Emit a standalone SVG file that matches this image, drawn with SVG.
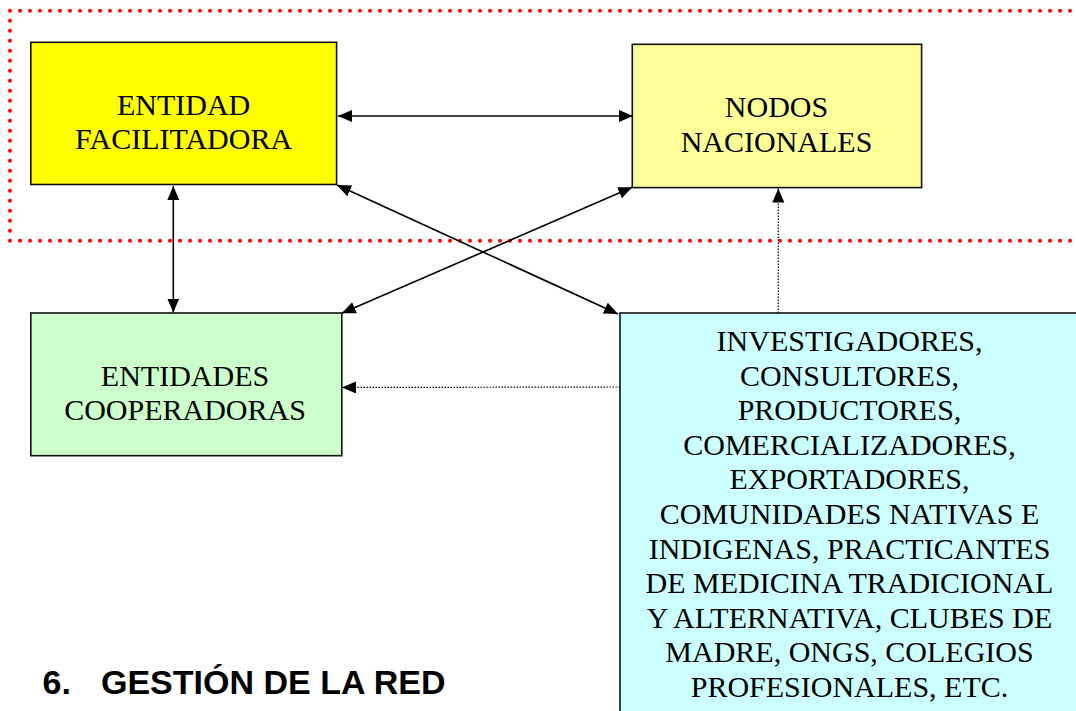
<svg xmlns="http://www.w3.org/2000/svg" width="1076" height="711" viewBox="0 0 1076 711">
<defs>
<style>
.box{stroke:#111;stroke-width:1.6}
.t{font-family:"Liberation Serif","Times New Roman",serif;font-size:30px;fill:#000;text-anchor:middle}
.ln{fill:none;stroke:#000;stroke-width:1.6}
.dl{fill:none;stroke:#000;stroke-width:1.2;stroke-dasharray:1.5 1.5}
.title{font-family:"Liberation Sans",Arial,sans-serif;font-weight:bold;font-size:34px;fill:#000}
</style>
<marker id="ah" markerUnits="userSpaceOnUse" markerWidth="15" markerHeight="13" refX="14" refY="6" orient="auto-start-reverse" viewBox="0 0 15 13">
<path d="M0,0 L14,6 L0,12 z" fill="#000"/>
</marker>
</defs>
<rect width="1076" height="711" fill="#fff"/>
<rect id="group-border" x="10" y="10.7" width="1100" height="230" fill="none" stroke="#ff0000" stroke-width="4" stroke-dasharray="0 10" stroke-linecap="round"/>
<g id="connectors">
<line class="ln" x1="338" y1="116" x2="633" y2="116" marker-start="url(#ah)" marker-end="url(#ah)"/>
<line class="ln" x1="173.3" y1="186" x2="173.3" y2="312.5" marker-start="url(#ah)" marker-end="url(#ah)"/>
<line class="ln" x1="337" y1="185" x2="618" y2="314" marker-start="url(#ah)" marker-end="url(#ah)"/>
<line class="ln" x1="632.3" y1="187.3" x2="341.7" y2="313.3" marker-start="url(#ah)" marker-end="url(#ah)"/>
<line class="dl" x1="778.3" y1="313" x2="778.3" y2="188.5" marker-end="url(#ah)"/>
<line class="dl" x1="620" y1="387" x2="342" y2="387.5" marker-end="url(#ah)"/>
</g>
<g id="entidad-facilitadora">
<rect class="box" x="30.8" y="42.3" width="305.8" height="142.2" fill="#ffff00"/>
<text class="t" x="183.6" y="115">ENTIDAD</text>
<text class="t" x="183.6" y="149">FACILITADORA</text>
</g>
<g id="nodos-nacionales">
<rect class="box" x="632.3" y="44.3" width="289.3" height="143.3" fill="#ffff99"/>
<text class="t" x="776.5" y="116.7">NODOS</text>
<text class="t" x="776.5" y="151.7">NACIONALES</text>
</g>
<g id="entidades-cooperadoras">
<rect class="box" x="30.8" y="313" width="311" height="142.7" fill="#ccffcc"/>
<text class="t" x="185" y="386">ENTIDADES</text>
<text class="t" x="185" y="419.5">COOPERADORAS</text>
</g>
<g id="actores">
<rect class="box" x="620" y="313" width="470" height="420" fill="#ccffff"/>
<text class="t" x="849.5" y="351">INVESTIGADORES,</text>
<text class="t" x="849.5" y="385.6">CONSULTORES,</text>
<text class="t" x="849.5" y="420.2">PRODUCTORES,</text>
<text class="t" x="849.5" y="454.8">COMERCIALIZADORES,</text>
<text class="t" x="849.5" y="489.4">EXPORTADORES,</text>
<text class="t" x="849.5" y="524">COMUNIDADES NATIVAS E</text>
<text class="t" x="849.5" y="558.6">INDIGENAS, PRACTICANTES</text>
<text class="t" x="849.5" y="593.2">DE MEDICINA TRADICIONAL</text>
<text class="t" x="849.5" y="627.8">Y ALTERNATIVA, CLUBES DE</text>
<text class="t" x="849.5" y="662.4">MADRE, ONGS, COLEGIOS</text>
<text class="t" x="849.5" y="697">PROFESIONALES, ETC.</text>
</g>
<g id="title">
<text class="title" x="42.5" y="694">6.</text>
<text class="title" x="101" y="694">GESTIÓN DE LA RED</text>
</g>
</svg>
